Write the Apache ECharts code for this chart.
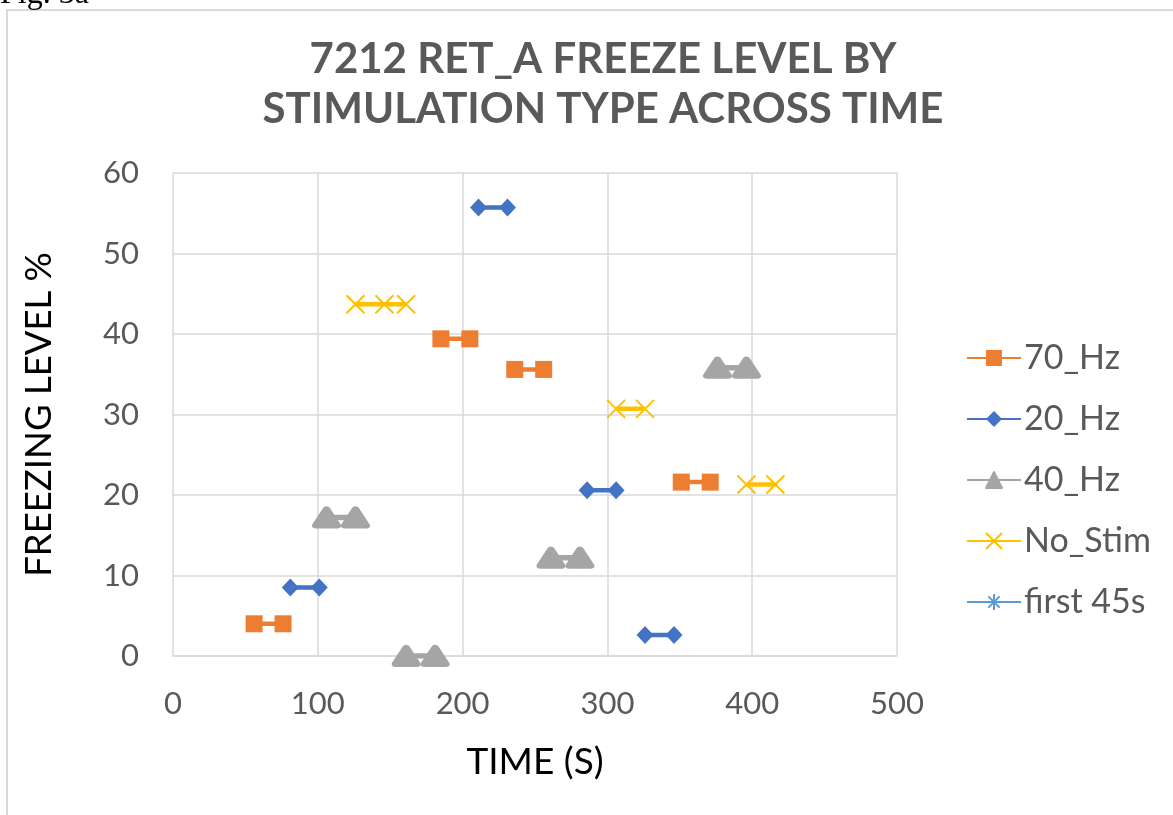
<!DOCTYPE html>
<html>
<head>
<meta charset="utf-8">
<script src="https://cdn.jsdelivr.net/npm/echarts@6/dist/echarts.min.js"></script>
<style>
  html, body { margin: 0; padding: 0; background: #fff; }
  #chart { width: 1173px; height: 815px; }
</style>
</head>
<body>
<div id="chart"></div>
<script>
// Freezing level (%) per stimulation block; each block is a short time window (s)
const hz70Times  = [[56, 76], [185, 205], [236, 256], [351, 371]];
const hz70Levels = [4.0, 39.4, 35.6, 21.6];

const hz20Times  = [[81, 101], [211, 231], [286, 306], [326, 346]];
const hz20Levels = [8.5, 55.7, 20.6, 2.6];

const hz40Times  = [[106, 126], [161, 181], [261, 281], [376, 396]];
const hz40Levels = [17.2, 0.0, 12.2, 35.8];

const noStimTimes  = [[126, 146, 161], [306, 326], [396, 416]];
const noStimLevels = [43.7, 30.7, 21.3];

const first45Times  = [];
const first45Levels = [];

const xTicks = [0, 100, 200, 300, 400, 500];
const yTicks = [0, 10, 20, 30, 40, 50, 60];

// Build a line series dataset where each block is its own unconnected segment
function blocks(times, levels) {
  const out = [];
  times.forEach((ts, i) => {
    if (i > 0) out.push([ts[0], '-']);
    ts.forEach(t => out.push([t, levels[i]]));
  });
  return out;
}

const FONT = 'Lato';
const GRID = '#d9d9d9';
const TXT = '#595959';

const chart = echarts.init(document.getElementById('chart'), null, { renderer: 'canvas' });

chart.setOption({
  backgroundColor: '#fff',
  animation: false,
  graphic: [
    { type: 'rect', shape: { x: 7, y: 10, width: 1300, height: 900 },
      style: { fill: 'none', stroke: GRID, lineWidth: 2 }, z: -1 },
    { type: 'text', left: 0, top: -21,
      style: { text: 'Fig. 3a', font: '32px "Liberation Serif"', fill: '#000' } }
  ],
  title: {
    text: '7212 RET_A FREEZE LEVEL BY\nSTIMULATION TYPE ACROSS TIME',
    left: 598, top: 29, textAlign: 'center',
    textStyle: {
      fontFamily: FONT, fontWeight: 'bold', fontSize: 42, color: TXT,
      lineHeight: 50
    }
  },
  legend: {
    orient: 'vertical', left: 961, top: 336,
    itemWidth: 54, itemHeight: 20, itemGap: 27,
    textStyle: { fontFamily: FONT, fontSize: 34, color: TXT, padding: [0, 0, 0, -2] },
    data: ['70_Hz', '20_Hz', '40_Hz', 'No_Stim', 'first 45s']
  },
  grid: { left: 173, right: 276, top: 173, bottom: 159 },
  xAxis: {
    type: 'value', min: xTicks[0], max: xTicks[xTicks.length - 1], interval: 100,
    name: 'TIME (S)', nameLocation: 'middle', nameGap: 88,
    nameTextStyle: { fontFamily: FONT, fontSize: 37, color: '#000' },
    axisLine: { show: true, lineStyle: { color: GRID, width: 1.5 } },
    axisTick: { show: false },
    axisLabel: { fontFamily: FONT, fontSize: 31, color: TXT, margin: 32 },
    splitLine: { show: true, lineStyle: { color: GRID, width: 1.5 } }
  },
  yAxis: {
    type: 'value', min: yTicks[0], max: yTicks[yTicks.length - 1], interval: 10,
    name: 'FREEZING LEVEL %', nameLocation: 'middle', nameGap: 115,
    nameTextStyle: { fontFamily: FONT, fontSize: 36.5, color: '#000' },
    axisLine: { show: false },
    axisTick: { show: false },
    axisLabel: { fontFamily: FONT, fontSize: 31, color: TXT, margin: 34 },
    splitLine: { show: true, lineStyle: { color: GRID, width: 1.5 } }
  },
  series: [
    {
      name: '70_Hz', type: 'line', data: blocks(hz70Times, hz70Levels),
      symbol: 'rect', symbolSize: 17, showAllSymbol: true,
      itemStyle: { color: '#ED7D31' },
      lineStyle: { color: '#ED7D31', width: 4.5 }
    },
    {
      name: '20_Hz', type: 'line', data: blocks(hz20Times, hz20Levels),
      symbol: 'diamond', symbolSize: [17, 18], showAllSymbol: true,
      itemStyle: { color: '#4472C4' },
      lineStyle: { color: '#4472C4', width: 4.5 }
    },
    {
      name: '40_Hz', type: 'line', data: blocks(hz40Times, hz40Levels),
      symbol: 'triangle', symbolSize: [21, 16], showAllSymbol: true,
      itemStyle: { color: '#A5A5A5', borderColor: '#A5A5A5', borderWidth: 7, borderJoin: 'round' },
      lineStyle: { color: '#A5A5A5', width: 5.5 }
    },
    {
      name: 'No_Stim', type: 'line', data: blocks(noStimTimes, noStimLevels),
      symbol: 'path://M0,0L10,10M10,0L0,10', symbolSize: 18, showAllSymbol: true,
      itemStyle: { color: '#FFC000', borderColor: '#FFC000', borderWidth: 2 },
      lineStyle: { color: '#FFC000', width: 4.5 }
    },
    {
      name: 'first 45s', type: 'line', data: blocks(first45Times, first45Levels),
      symbol: 'path://M5,0L5,10M0,5L10,5M1.5,1.5L8.5,8.5M8.5,1.5L1.5,8.5', symbolSize: 16,
      itemStyle: { color: '#5B9BD5', borderColor: '#5B9BD5', borderWidth: 2 },
      lineStyle: { color: '#5B9BD5', width: 4.5 }
    }
  ]
});
</script>
</body>
</html>
